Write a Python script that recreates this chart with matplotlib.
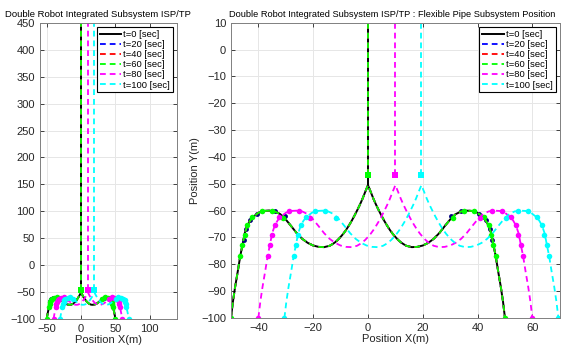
# Double robot ISP/TP pipe positions, two views of the same data
import numpy as np
import matplotlib
matplotlib.use("Agg")
import matplotlib.pyplot as plt

plt.rcParams['font.family'] = ['Liberation Sans', 'DejaVu Sans']

# right half of the pipe profile at t=0 (mirrored for the left half)
half_x = [0, 1, 2, 3, 4, 5, 6, 7, 8, 9, 10, 11, 12, 13, 14, 16, 18, 20, 22, 24, 26,
          28, 30, 32, 34, 36, 38, 40, 42, 43, 44, 45, 45.8, 46.6, 47.5, 48.5, 49.3, 50]
half_y = [-50.5, -53, -55.6, -57.9, -60, -62, -63.9, -65.6, -67.2, -68.6, -69.8, -70.9,
          -71.8, -72.5, -73.1, -73.6, -73.5, -73, -72, -70.5, -68.4, -65.8, -63.3, -61.3,
          -60.3, -60, -60.1, -60.8, -62.4, -63.7, -65.5, -68.5, -72.8, -76.8, -82.5,
          -88.5, -94, -100]

# robot / node markers (right half)
node_x = [31, 35.1, 38.8, 42.3, 44.1, 44.9, 45.8, 46.6, 50]
node_y = [-62.7, -60, -60.2, -62.4, -65.4, -69.2, -72.9, -76.8, -100]
node_x_t20 = [30.2, 33.8, 40.4, 43.2, 44.6, 45.4]
node_y_t20 = [-62.0, -60.1, -61.3, -63.6, -67.0, -71.0]

riser_top = 500
riser_bottom = -46.8

times = [0, 20, 40, 60, 80, 100]
shifts = [0, 0, 0, 0, 10, 19.5]
colors = ['k', (0, 0, 1), (1, 0, 0), (0, 1, 0), (1, 0, 1), (0, 1, 1)]

hx = np.array(half_x)
hy = np.array(half_y)
pipe_x = np.concatenate([-hx[::-1], hx[1:]])
pipe_y = np.concatenate([hy[::-1], hy[1:]])
nx = np.array(node_x)
ny = np.array(node_y)
mark_x = np.concatenate([-nx[::-1], nx])
mark_y = np.concatenate([ny[::-1], ny])
bx = np.array(node_x_t20)
by = np.array(node_y_t20)
mark_x20 = np.concatenate([-bx[::-1], bx])
mark_y20 = np.concatenate([by[::-1], by])

fig = plt.figure(figsize=(5.62, 3.46), dpi=100)
ax1 = fig.add_axes([0.071, 0.078, 0.244, 0.856])
ax2 = fig.add_axes([0.411, 0.081, 0.585, 0.853])

gray = (0.15, 0.15, 0.15)

for ax in (ax1, ax2):
    for i, t in enumerate(times):
        s = shifts[i]
        c = colors[i]
        if i == 0:
            ax.plot(pipe_x + s, pipe_y, '-', color=c, lw=1.4, label='t=%d [sec]' % t)
            ax.plot([s, s], [-50.5, riser_top], '-', color=c, lw=1.4)
        else:
            ax.plot(pipe_x + s, pipe_y, '--', color=c, lw=1.3, dashes=(3.2, 2.2),
                    label='t=%d [sec]' % t)
            ax.plot([s, s], [riser_bottom, riser_top], '--', color=c, lw=1.3,
                    dashes=(3.2, 2.2))
            if i == 1:
                ax.plot(mark_x20 + s, mark_y20, 'o', color=(0, 0, 0.5), ms=3.5, mew=0)
            if i >= 3:
                ax.plot(mark_x + s, mark_y, 'o', color=c, ms=4, mew=0)
                ax.plot([s], [riser_bottom], 's', color=c, ms=5, mew=0)

    ax.grid(True, color=(0.9, 0.9, 0.9), lw=0.7)
    ax.set_axisbelow(True)
    ax.tick_params(direction='in', top=True, right=True, labelsize=8, colors=gray,
                   length=3, width=0.6)
    for sp in ax.spines.values():
        sp.set_color((0.5, 0.5, 0.5))
        sp.set_linewidth(0.7)
    ax.set_xlabel('Position X(m)', fontsize=8, color=gray, labelpad=1)
    leg = ax.legend(loc='upper right', fontsize=6.8, handlelength=2.3, handletextpad=0.2,
                    borderpad=0.3, labelspacing=0.12, fancybox=False, framealpha=1,
                    borderaxespad=0.45)
    leg.get_frame().set_edgecolor('k')
    leg.get_frame().set_linewidth(0.8)

ax1.set_xlim(-60, 140)
ax1.set_ylim(-100, 450)
ax1.set_xticks([-50, 0, 50, 100])
ax1.set_yticks(np.arange(-100, 451, 50))
ax1.set_title('Double Robot Integrated Subsystem ISP/TP', fontsize=6.8, color='k', pad=4,
              x=0.42)

ax2.set_xlim(-50, 70)
ax2.set_ylim(-100, 10)
ax2.set_xticks([-40, -20, 0, 20, 40, 60])
ax2.set_yticks(np.arange(-100, 11, 10))
ax2.set_ylabel('Position Y(m)', fontsize=8, color=gray, labelpad=1)
ax2.set_title('Double Robot Integrated Subsystem ISP/TP : Flexible Pipe Subsystem Position',
              fontsize=6.7, color='k', pad=4, x=0.49)

fig.savefig('out.png', dpi=100)
